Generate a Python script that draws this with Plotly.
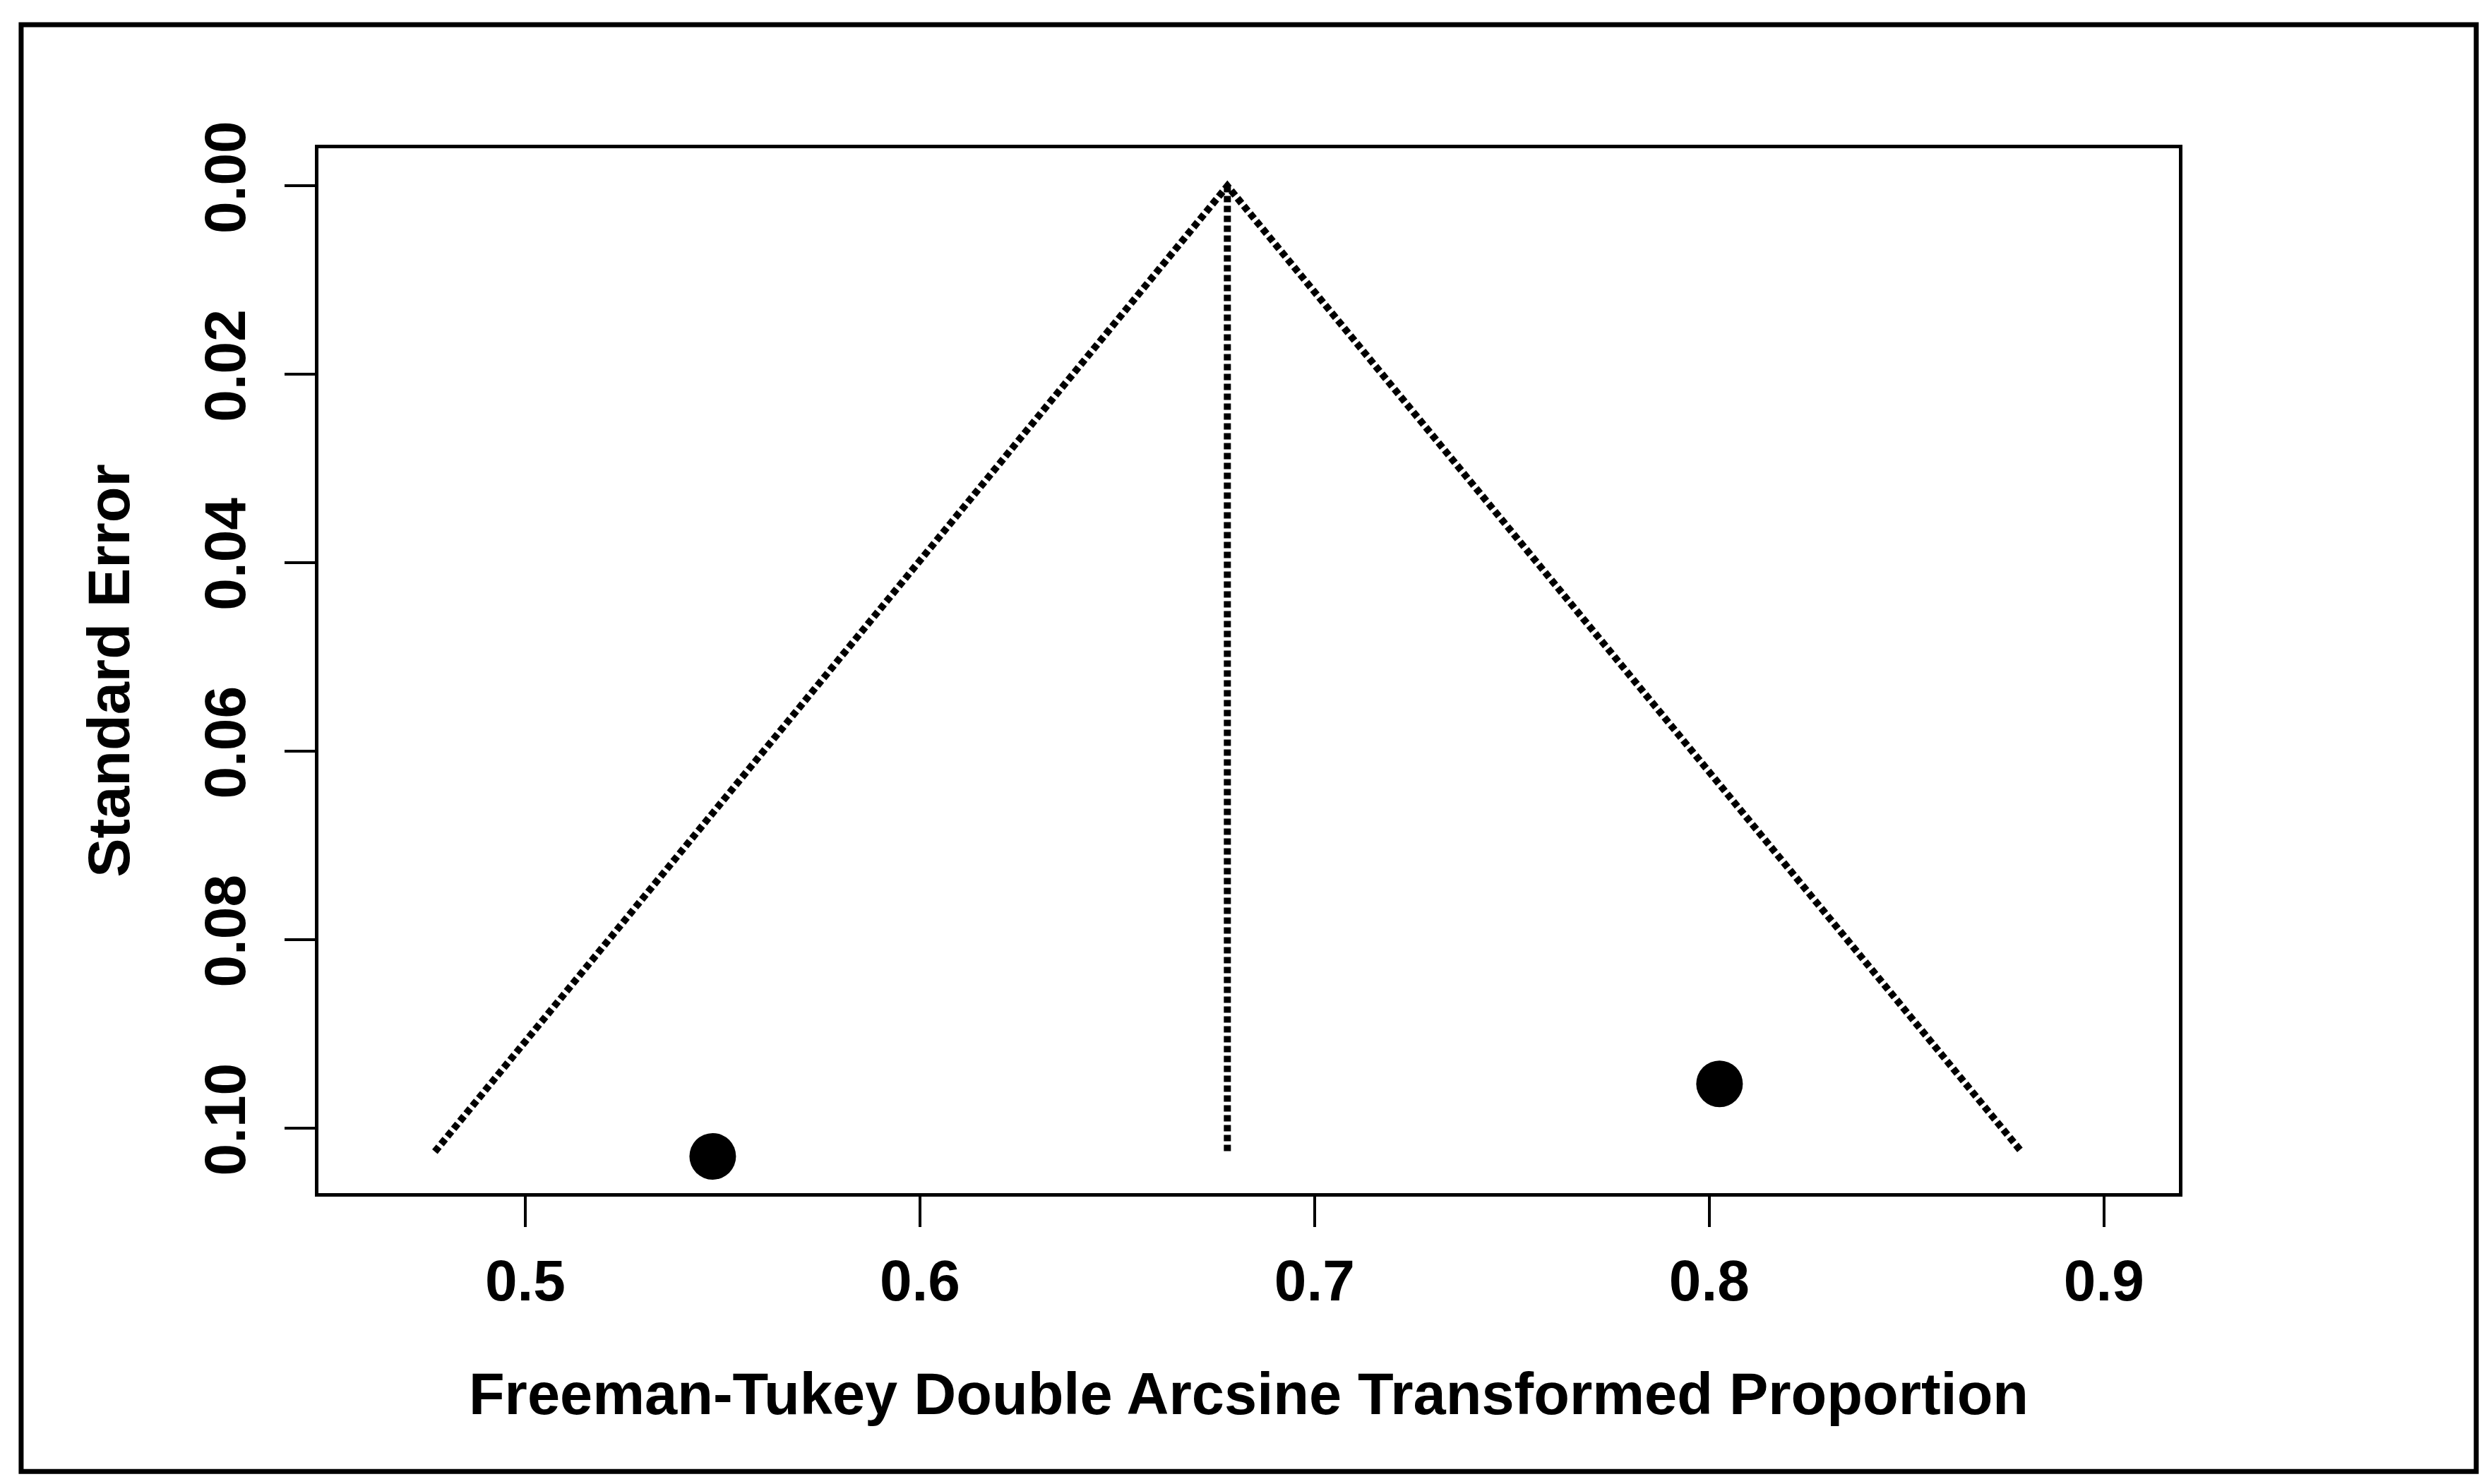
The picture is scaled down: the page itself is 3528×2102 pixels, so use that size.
import plotly.graph_objects as go

# ---- data ----
study_x = [0.5475, 0.8026]          # transformed proportions
study_se = [0.1030, 0.0953]         # standard errors

funnel_x = [0.4771, 0.6779, 0.8791]  # pseudo-CI funnel (left end, apex, right end)
funnel_y = [0.1025, 0.0000, 0.1025]

center_x = [0.6779, 0.6779]          # pooled estimate reference line
center_y = [0.0000, 0.1025]

x_ticks = [0.5, 0.6, 0.7, 0.8, 0.9]
x_ticklabels = ["0.5", "0.6", "0.7", "0.8", "0.9"]
y_ticks = [0.00, 0.02, 0.04, 0.06, 0.08, 0.10]
y_ticklabels = ["0.00", "0.02", "0.04", "0.06", "0.08", "0.10"]

x_title = "Freeman-Tukey Double Arcsine Transformed Proportion"
y_title = "Standard Error"

W, H = 3528, 2102
FONT = "Liberation Sans, Arial, Helvetica, sans-serif"

fig = go.Figure()

fig.add_trace(go.Scatter(
    x=funnel_x, y=funnel_y, mode="lines",
    line=dict(color="black", width=10, dash="9px,5px"),
    hoverinfo="skip", showlegend=False))

fig.add_trace(go.Scatter(
    x=center_x, y=center_y, mode="lines",
    line=dict(color="black", width=10, dash="9px,5px"),
    hoverinfo="skip", showlegend=False))

fig.add_trace(go.Scatter(
    x=study_x, y=study_se, mode="markers",
    marker=dict(color="black", size=66, line=dict(width=0)),
    showlegend=False))

fig.update_layout(
    width=W, height=H,
    paper_bgcolor="white", plot_bgcolor="white",
    margin=dict(l=443, r=450, t=202, b=420),
    font=dict(family=FONT, color="black"),
    xaxis=dict(
        range=[0.4476, 0.919],
        tickmode="array", tickvals=x_ticks, ticktext=x_ticklabels,
        ticks="outside", ticklen=43, tickwidth=4, tickcolor="black",
        showline=True, linewidth=5, linecolor="black", mirror=True,
        showgrid=False, zeroline=False,
        tickfont=dict(size=82, family=FONT, weight="bold"),
        ticklabelstandoff=6,
        title=dict(text=x_title, font=dict(size=83, family=FONT, weight="bold"), standoff=88),
    ),
    yaxis=dict(
        range=[0.1069, -0.0040],
        tickmode="array", tickvals=y_ticks, ticktext=y_ticklabels,
        ticks="outside", ticklen=43, tickwidth=4, tickcolor="black",
        showline=True, linewidth=5, linecolor="black", mirror=True,
        showgrid=False, zeroline=False,
        tickangle=-90,
        tickfont=dict(size=82, family=FONT, weight="bold"),
        ticklabelstandoff=23,
        title=dict(text=y_title, font=dict(size=83, family=FONT, weight="bold"), standoff=64),
    ),
    shapes=[dict(
        type="rect", xref="paper", yref="paper",
        x0=-0.1598, x1=1.1598, y0=-0.2664, y1=1.1183,
        line=dict(color="black", width=7), fillcolor="rgba(0,0,0,0)",
        layer="above")],
)

fig.write_html("out.html")
